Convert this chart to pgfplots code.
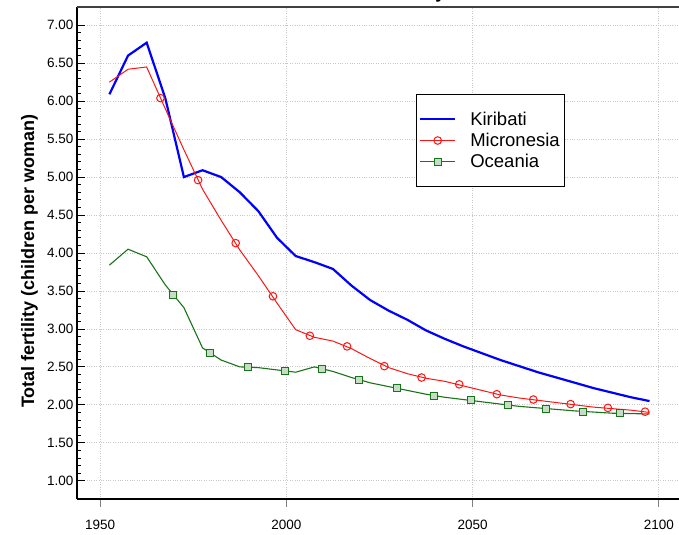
\documentclass[border=0pt]{standalone}
\usepackage{pgfplots}
\pgfplotsset{compat=1.18}
\usepackage{fontspec}
\setmainfont{Liberation Sans}

\definecolor{kir}{RGB}{0,0,255}
\definecolor{mic}{RGB}{255,20,20}
\definecolor{oce}{RGB}{25,115,25}
\definecolor{gridgray}{RGB}{200,200,200}

\begin{document}
\begin{tikzpicture}
\begin{axis}[
  name=ax,
  scale only axis,
  width=602bp, height=492bp,
  xmin=1943.8, xmax=2105.4,
  ymin=0.76, ymax=7.24,
  axis lines=left,
  axis line style={-, line width=1.3bp, black},
  xtick={1950,2000,2050,2100},
  ytick={1,1.5,2,2.5,3,3.5,4,4.5,5,5.5,6,6.5,7},
  minor y tick num=4,
  xtick align=outside,
  ytick align=inside,
  major tick length=8bp,
  minor tick length=4bp,
  x tick style={gray, line width=1bp},
  y tick style={black, line width=0.8bp},
  grid=major,
  major grid style={gridgray, dotted, line width=0.8bp},
  /pgf/number format/assume math mode=true,
  ticklabel style={font=\fontsize{13.5bp}{16bp}\selectfont},
  x tick label style={/pgf/number format/1000 sep={}, yshift=-10bp},
  y tick label style={/pgf/number format/.cd, fixed, fixed zerofill, precision=2, /tikz/.cd},
  ylabel={Total fertility (children per woman)},
  ylabel style={at={(axis description cs:-0.079,0.484)}, anchor=center,
    font=\fontsize{18bp}{21bp}\selectfont\bfseries},
  legend style={at={(axis description cs:0.5626,0.8226)}, anchor=north west,
    draw=black, line width=0.8bp, font=\fontsize{18.5bp}{22bp}\selectfont,
    inner xsep=3bp, inner ysep=15bp, row sep=2.5bp, column sep=12bp,
    cells={anchor=west}},
  legend image code/.code={\draw[mark repeat=2,mark phase=2]
    plot coordinates {(0bp,0bp) (17.5bp,0bp) (35bp,0bp)};},
]
% Kiribati
\addplot[kir, line width=2.2bp, forget plot] table {
1952.5 6.09
1957.5 6.60
1962.5 6.77
1967.5 6.04
1972.5 5.00
1977.5 5.09
1982.5 5.00
1987.5 4.80
1992.5 4.55
1997.5 4.20
2002.5 3.96
2007.5 3.88
2012.5 3.79
2017.5 3.57
2022.5 3.38
2027.5 3.24
2032.5 3.12
2037.5 2.98
2042.5 2.87
2047.5 2.77
2052.5 2.68
2057.5 2.59
2062.5 2.51
2067.5 2.43
2072.5 2.36
2077.5 2.29
2082.5 2.22
2087.5 2.16
2092.5 2.10
2097.5 2.05
};
% Micronesia
\addplot[mic, line width=1bp, forget plot] table {
1952.5 6.25
1957.5 6.42
1962.5 6.45
1967.5 5.90
1972.5 5.36
1977.5 4.84
1982.5 4.43
1987.5 4.04
1992.5 3.70
1997.5 3.34
2002.5 2.99
2007.5 2.89
2012.5 2.84
2017.5 2.74
2022.5 2.61
2027.5 2.49
2032.5 2.41
2037.5 2.35
2042.5 2.31
2047.5 2.25
2052.5 2.19
2057.5 2.13
2062.5 2.09
2067.5 2.06
2072.5 2.03
2077.5 2.00
2082.5 1.97
2087.5 1.95
2092.5 1.93
2097.5 1.90
};
\addplot[mic, only marks, mark=o, mark size=3.8bp, mark options={line width=1bp}, forget plot] table {
1966.2 6.04
1976.3 4.96
1986.4 4.13
1996.4 3.43
2006.3 2.91
2016.3 2.77
2026.3 2.51
2036.3 2.36
2046.4 2.27
2056.5 2.14
2066.3 2.07
2076.3 2.01
2086.3 1.96
2096.3 1.91
};
% Oceania
\addplot[oce, line width=1.1bp, forget plot] table {
1952.5 3.84
1957.5 4.05
1962.5 3.95
1967.5 3.58
1972.5 3.28
1977.5 2.75
1982.5 2.59
1987.5 2.50
1992.5 2.49
1997.5 2.46
2002.5 2.43
2007.5 2.50
2012.5 2.44
2017.5 2.36
2022.5 2.29
2027.5 2.24
2032.5 2.19
2037.5 2.14
2042.5 2.10
2047.5 2.07
2052.5 2.04
2057.5 2.01
2062.5 1.98
2067.5 1.96
2072.5 1.94
2077.5 1.92
2082.5 1.905
2087.5 1.89
2092.5 1.885
2097.5 1.88
};
\addplot[oce, only marks, mark=square*, mark size=3.5bp, mark options={fill=oce!25, line width=1bp}, forget plot] table {
1969.6 3.45
1979.6 2.68
1989.6 2.50
1999.6 2.45
2009.6 2.47
2019.6 2.33
2029.6 2.22
2039.5 2.12
2049.6 2.06
2059.6 2.00
2069.6 1.95
2079.6 1.91
2089.5 1.89
};
\addlegendimage{kir, line width=2.2bp}
\addlegendimage{mic, line width=1bp, mark=o, mark size=3.8bp, mark options={line width=1bp}}
\addlegendimage{oce, line width=1.1bp, mark=square*, mark size=3.5bp, mark options={fill=oce!25, line width=1bp}}
\legend{Kiribati, Micronesia, Oceania}
\end{axis}
\draw[line width=1.3bp, darkgray] (ax.north west) -- (ax.north east);
\node[anchor=base east, xshift=372bp, yshift=8bp,
  font=\fontsize{18bp}{21bp}\selectfont\bfseries] at (ax.north west) {Total fertility};
\pgfresetboundingbox
\useasboundingbox ([xshift=-77bp,yshift=-36bp]ax.south west) rectangle ([yshift=7bp]ax.north east);
\end{tikzpicture}
\end{document}
